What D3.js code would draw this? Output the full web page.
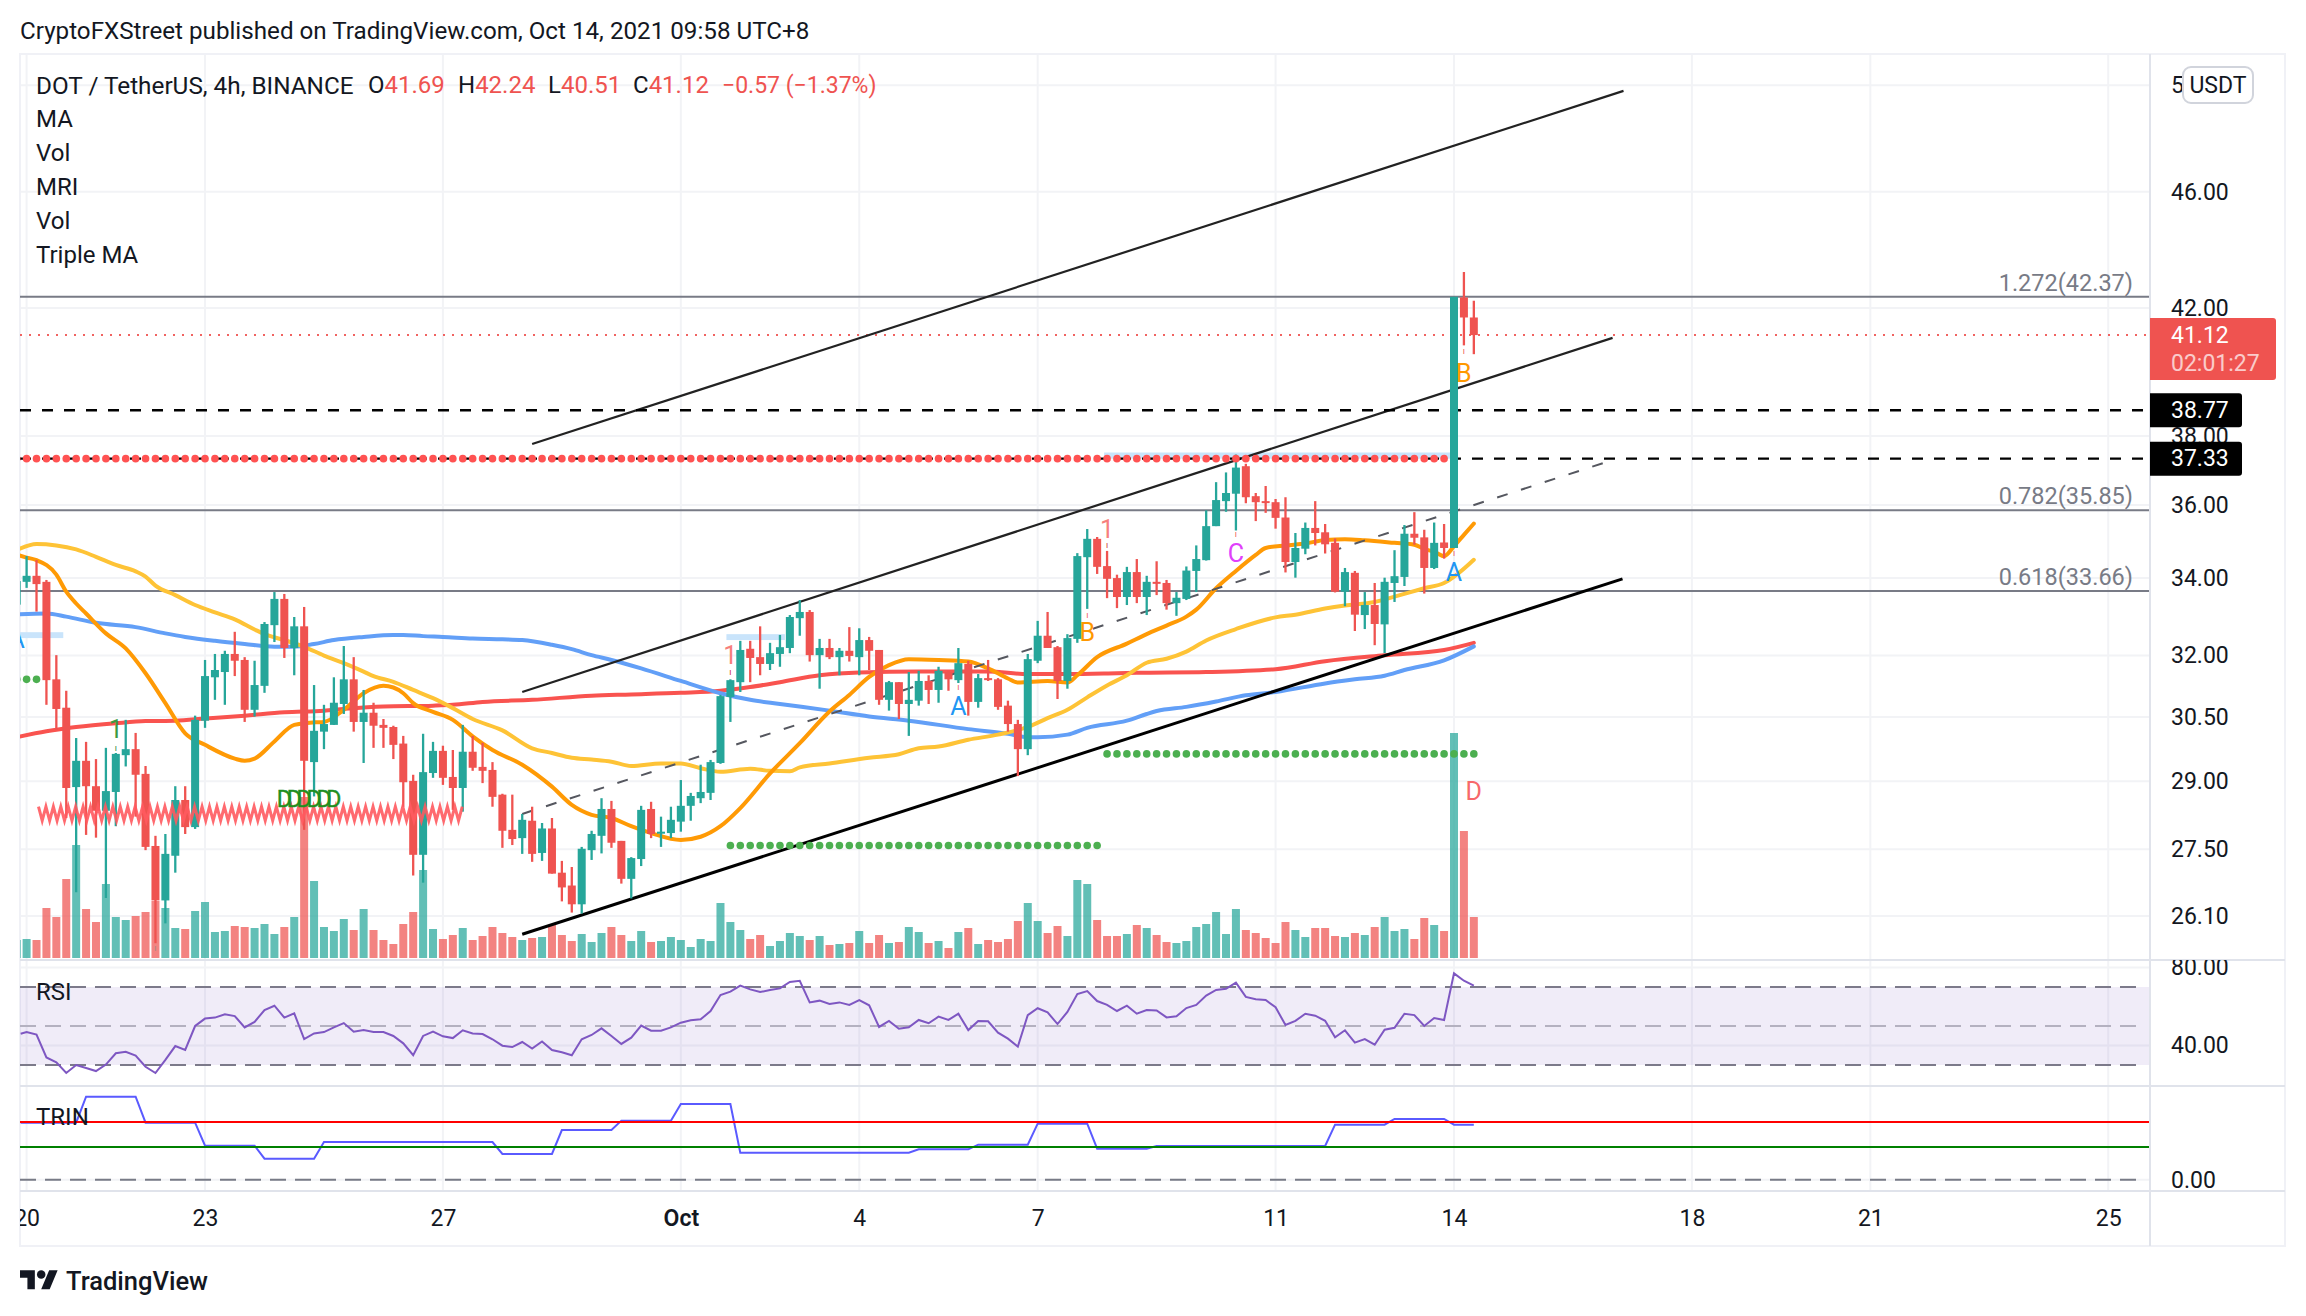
<!DOCTYPE html>
<html>
<head>
<meta charset="utf-8">
<style>
  html, body { margin: 0; background: #fff; }
  svg { display: block; }
  text { font-family: Roboto, "Liberation Sans", sans-serif; fill: #131722; }
</style>
</head>
<body>
<svg id="chart" width="2306" height="1316"></svg>
<script src="https://cdn.jsdelivr.net/npm/d3@7"></script>
<script>
// bars run from index -1 (cut off by the left edge) to 146, 4h each, 0 = Sep 20
const opens = [33.30,
  33.90,34.06,33.90,31.41,30.72,28.87,29.47,28.89,28.34,28.76,29.60,29.74,29.17,27.57,26.42,27.36,28.58,27.98,30.41,31.46,
  31.59,32.04,31.89,30.67,31.25,32.77,33.45,32.19,32.74,29.44,30.15,30.31,30.81,31.41,30.38,30.60,30.31,30.26,29.87,29.01,
  27.38,29.19,29.70,29.10,28.85,29.68,29.33,29.26,28.70,27.92,27.74,28.12,27.42,27.95,27.00,26.73,26.34,27.48,27.79,28.38,
  27.68,26.87,27.29,28.38,27.85,27.85,28.10,28.45,28.62,28.74,29.42,30.98,31.34,32.17,31.96,31.79,32.04,32.19,32.95,33.11,
  32.01,32.19,31.96,32.12,31.96,32.39,32.14,30.91,31.34,30.81,30.89,31.37,31.15,31.59,31.39,31.79,30.86,31.44,31.41,30.77,
  30.33,29.74,31.87,32.50,32.21,31.37,32.42,34.56,35.06,34.32,34.00,33.50,34.16,33.50,33.90,33.87,33.34,33.45,34.19,34.48,
  35.41,36.11,36.32,37.11,36.25,36.11,36.08,35.65,34.43,34.79,35.36,35.24,34.95,33.64,34.14,33.03,33.29,32.79,33.87,34.03,
  35.20,35.10,34.27,34.96,34.81,42.35,41.69];
const highs = [34.00,
  34.59,34.48,33.95,32.01,31.13,30.00,29.91,29.51,29.77,29.65,30.43,30.12,29.35,27.79,27.83,28.89,28.89,30.53,31.89,32.04,
  32.12,32.60,31.96,31.87,32.85,33.63,33.58,32.98,33.24,31.27,30.79,31.46,32.24,31.96,31.15,30.84,30.45,30.29,30.05,29.15,
  30.10,29.91,29.82,29.72,30.31,30.05,29.89,29.44,28.72,28.70,28.27,28.43,28.07,28.18,27.25,27.12,27.55,27.90,28.62,28.56,
  27.68,27.33,28.45,28.54,28.21,28.43,29.03,28.74,29.38,29.49,31.03,31.41,32.37,32.37,32.74,32.32,32.52,33.03,33.42,33.16,
  32.42,32.42,32.19,32.72,32.69,32.47,32.14,31.37,31.34,31.59,31.62,31.51,31.72,31.62,32.19,31.87,31.54,31.89,31.44,30.89,
  30.43,32.04,32.88,33.11,32.24,32.54,34.67,35.33,35.11,34.73,34.09,34.30,34.51,34.06,34.45,33.95,33.63,34.31,34.88,35.85,
  36.65,36.93,37.45,37.18,36.34,36.54,36.17,36.22,35.22,35.51,36.11,35.47,35.07,34.27,34.19,33.63,33.87,34.01,34.75,35.44,
  35.80,35.31,35.51,35.47,42.37,43.20,42.24];
const lows = [33.20,
  33.74,33.12,30.79,30.20,28.18,26.59,27.81,27.75,26.47,28.00,29.34,28.21,27.48,25.55,25.95,27.00,27.83,27.94,30.24,30.91,
  30.79,31.49,30.38,30.51,31.08,32.34,31.94,31.51,27.92,28.66,29.74,30.31,30.57,30.15,29.42,29.77,29.77,29.51,28.43,26.94,
  26.79,29.08,28.92,28.36,28.32,29.24,28.96,28.43,27.53,27.59,27.40,27.23,27.25,26.98,26.40,26.17,26.15,27.27,27.41,27.53,
  26.77,26.46,27.14,27.74,27.55,27.74,27.88,28.12,28.51,28.58,29.40,30.38,31.10,31.34,31.51,31.64,31.72,32.06,32.50,31.85,
  31.18,31.91,31.51,31.85,31.51,31.64,30.79,30.65,30.45,30.05,30.77,30.81,30.84,31.13,31.32,30.53,30.72,31.37,30.67,30.15,
  29.12,29.60,31.81,32.19,30.93,31.18,32.32,33.19,34.11,33.47,33.21,33.29,33.34,33.03,33.55,33.17,33.01,33.42,33.63,34.47,
  35.41,35.81,35.29,36.05,35.55,35.78,35.34,34.15,34.01,34.64,34.88,34.66,33.62,33.26,32.62,32.67,32.26,32.06,33.37,33.79,
  34.90,33.59,34.24,34.52,34.81,40.79,40.51];
const closes = [33.92,
  34.06,33.84,31.39,30.69,28.85,29.47,28.89,28.34,28.78,29.63,29.74,29.15,27.55,26.42,27.40,28.58,27.98,30.43,31.49,31.64,
  32.04,31.87,30.67,31.27,32.80,33.45,32.19,32.74,29.47,30.17,30.33,30.84,31.41,30.38,30.60,30.29,30.24,29.84,28.98,27.38,
  29.21,29.70,29.08,28.85,29.68,29.31,29.24,28.65,27.90,27.72,28.14,27.40,27.95,26.98,26.69,26.34,27.51,27.83,28.38,27.64,
  26.87,27.31,28.36,27.83,27.88,28.14,28.45,28.67,28.76,29.44,31.00,31.39,32.14,31.94,31.79,32.06,32.21,32.98,33.11,32.01,
  32.19,31.96,32.12,31.99,32.39,32.12,30.91,31.34,30.81,30.91,31.37,31.15,31.62,31.41,31.81,30.86,31.44,31.39,30.74,30.33,
  29.74,31.91,32.50,32.19,31.37,32.44,34.59,35.06,34.30,33.98,33.50,34.16,33.50,33.90,33.85,33.34,33.48,34.20,34.51,35.41,
  36.14,36.34,37.07,36.22,36.08,36.06,35.64,34.43,34.81,35.36,35.22,34.91,33.64,34.16,33.04,33.29,32.80,33.90,34.05,35.20,
  35.09,34.27,34.95,34.81,42.37,41.69,41.12];
const volumes = [18,
  19,18,50,41,79,113,49,36,74,41,38,42,46,57,50,30,29,47,56,26,
  27,32,31,30,34,24,31,41,161,77,31,27,39,28,49,28,18,14,34,46,
  88,29,19,23,30,18,22,31,25,21,18,20,21,33,23,17,24,16,25,31,
  23,17,27,16,17,21,18,11,19,17,55,36,28,19,23,12,17,25,22,18,
  22,13,14,15,27,15,23,15,16,31,26,15,17,10,26,30,14,18,16,19,
  37,55,37,25,32,22,78,74,38,22,22,24,33,30,23,16,15,17,31,34,
  46,24,49,28,25,20,15,36,28,21,30,30,22,21,25,23,31,41,27,29,
  19,40,33,27,225,127,41];

// moving averages, read at these bars only
const maFastBars = [-1,0,1,3,4,5,6,8,10,12,14,16,18,21,22,23,25,27,29,30,32,34,36,37,38,39,41,43,45,47,50,53,55,57,59,61,63,66,68,70,72,75,78,81,83,85,87,89,92,95,97,99,100,103,105,106,108,111,113,115,117,118,120,122,124,125,127,129,131,133,135,138,140,141,142,143,144,145,146];
const maFast = [34.63,34.55,34.48,34.09,33.64,33.33,33.07,32.56,32.18,31.56,30.83,30.11,29.84,29.52,29.47,29.52,29.92,30.31,30.37,30.38,30.67,31.07,31.25,31.21,31.07,30.83,30.62,30.43,30.04,29.72,29.38,28.88,28.47,28.25,28.18,28.00,27.85,27.70,27.77,28.00,28.40,29.18,29.88,30.63,31.03,31.47,31.76,31.91,31.89,31.85,31.68,31.43,31.33,31.37,31.33,31.51,31.96,32.30,32.54,32.76,32.99,33.17,33.73,34.19,34.62,34.81,34.88,34.93,35.03,35.05,35.02,34.95,34.90,34.78,34.71,34.59,34.86,35.17,35.48];
const maMidBars = [-1,1,3,5,7,9,11,12,13,15,17,19,21,23,24,26,28,30,32,34,35,37,39,41,43,45,48,51,53,55,57,59,61,64,66,68,70,73,75,77,78,81,85,88,90,92,95,98,101,103,105,107,109,111,113,115,117,119,122,126,128,131,133,136,138,141,143,146];
const maMid = [34.75,34.92,34.88,34.77,34.57,34.35,34.18,34.04,33.80,33.55,33.29,33.10,32.92,32.66,32.54,32.39,32.22,32.00,31.81,31.60,31.49,31.35,31.15,30.95,30.71,30.45,30.18,29.76,29.65,29.54,29.50,29.45,29.35,29.41,29.41,29.30,29.22,29.29,29.24,29.23,29.32,29.41,29.54,29.62,29.76,29.80,29.96,30.08,30.26,30.47,30.67,30.97,31.26,31.51,31.82,31.92,32.10,32.38,32.67,32.97,33.04,33.20,33.28,33.37,33.51,33.73,33.87,34.49];
const maSlowBars = [-1,2,4,7,11,14,16,19,22,25,27,29,31,34,37,38,40,42,45,48,50,53,55,57,59,62,66,70,73,76,81,85,89,95,99,101,102,105,107,111,113,114,117,120,123,126,131,134,137,139,143,146];
const maSlow = [33.05,33.07,32.99,32.83,32.72,32.56,32.47,32.37,32.29,32.22,32.22,32.29,32.39,32.47,32.52,32.52,32.49,32.47,32.43,32.41,32.39,32.27,32.16,32.01,31.89,31.68,31.37,31.07,30.91,30.81,30.65,30.51,30.41,30.21,30.10,30.02,30.02,30.08,30.24,30.41,30.57,30.64,30.74,30.87,31.02,31.10,31.31,31.41,31.50,31.64,31.88,32.23];
const maLongBars = [-1,2,5,9,12,15,18,22,26,30,32,36,41,43,46,51,57,61,66,70,73,76,80,84,90,97,101,105,110,112,119,126,131,137,143,146];
const maLong = [30.02,30.16,30.26,30.35,30.40,30.41,30.46,30.53,30.61,30.65,30.69,30.75,30.77,30.79,30.86,30.91,31.01,31.04,31.08,31.13,31.22,31.34,31.51,31.58,31.60,31.60,31.54,31.54,31.56,31.57,31.59,31.66,31.86,32.01,32.14,32.32];

// RSI, one value per bar from -1
const rsiValues = [46,
  46.9,45.6,33.9,31.4,25.9,30.0,28.5,26.9,30.2,36.0,36.8,34.8,29.1,25.9,32.6,39.7,37.7,50.0,53.8,54.3,
  56.0,55.1,49.3,52.1,58.2,60.4,54.3,56.5,43.3,46.2,46.9,49.3,51.5,47.1,47.9,46.9,46.9,44.9,41.1,35.0,
  44.9,47.1,44.7,43.8,47.8,46.2,45.9,43.2,39.9,39.2,41.8,38.4,42.1,37.7,36.5,35.0,43.2,45.4,48.8,44.9,
  40.8,44.0,50.2,47.6,47.6,49.3,51.7,52.9,53.4,57.7,65.9,67.6,70.7,68.8,67.4,68.5,69.3,72.6,73.2,62.1,
  63.0,61.3,62.1,60.8,63.3,60.6,49.5,52.6,48.6,49.3,53.1,51.4,54.8,53.1,56.3,47.9,52.6,52.4,46.6,43.5,
  39.4,55.6,59.1,57.0,51.0,57.2,66.4,67.9,62.8,60.8,57.7,60.4,56.3,58.2,58.0,54.4,55.0,59.2,60.8,65.6,
  68.5,69.1,72.2,64.9,63.7,63.3,59.6,50.5,52.6,56.3,55.3,52.7,44.2,47.8,41.5,43.3,40.4,48.1,49.1,56.3,
  55.6,50.0,54.1,53.1,77.0,73.2,70.7];
const rsiLevels = [70, 50, 30];
const rsiTicks = [80, 40];

// TRIN steps: value at each corner of the stepped line
const trinBars = [-1,5,6,11,12,17,18,23,24,29,30,47,48,53,54,59,60,65,66,71,72,89,90,95,96,101,102,107,108,113,114,131,132,137,138,143,144,146];
const trinValues = [1.384,1.384,2.015,2.015,1.384,1.384,0.826,0.826,0.510,0.510,0.915,0.915,0.624,0.624,1.206,1.206,1.433,1.433,1.837,1.837,0.656,0.656,0.737,0.737,0.850,0.850,1.360,1.360,0.753,0.753,0.818,0.818,1.336,1.336,1.473,1.473,1.336,1.336];
const trinUpper = 1.40;
const trinLower = 0.794;

const priceTicks = [50, 46, 42, 38, 36, 34, 32, 30.5, 29, 27.5, 26.1];
const timeTickBars = [0, 18, 42, 66, 84, 102, 126, 144, 168, 186, 210];
const timeLabels = ["20", "23", "27", "Oct", "4", "7", "11", "14", "18", "21", "25"];

const fibLevels = [1.272, 0.782, 0.618];
const fibPrices = [42.37, 35.85, 33.66];
const supportPrices = [38.77, 37.33];
const lastPrice = 41.12;

// trend lines as [bar, price] ends
const channelTop = [[51, 37.76], [161.1, 49.78]];
const channelUpper = [[50, 31.10], [160, 41.03]];
const channelMiddle = [[50, 28.27], [160, 37.29]];
const channelBottom = [[50, 25.73], [161, 33.98]];

// light blue boxes: first bar, last bar, upper price, lower price
const blueBoxes = [[-1.7, 3.7, 32.59, 32.44], [70.6, 76.5, 32.54, 32.39], [108.7, 143.6, 37.51, 37.33]];

// dotted rows of the triple MA signal: level, first bar, last bar
const redDotLevel = 37.33, redDotFrom = -1, redDotTo = 143;
const greenDotRows = [[31.41, -1, 1], [27.58, 71, 108], [29.63, 109, 146]];
const zigzagHigh = 28.43, zigzagLow = 28.12, zigzagFrom = 1.2, zigzagTo = 44;

// letters printed by the indicators: text, bar, price, colour
const chartLetters = [
  ["1", 9, 30.19, "#3c9a40"], ["1", 71, 32.01, "#f77f7c"], ["1", 109, 35.33, "#f77f7c"],
  ["A", 94, 30.74, "#2196f3"], ["A", 144, 34.16, "#2196f3"],
  ["B", 107, 32.57, "#ff9800"], ["B", 145, 39.90, "#ff9800"],
  ["C", 122, 34.67, "#e040fb"], ["D", 146, 28.78, "#f7686a"]
];
const tinyMarks = [[9, 29.75, "#2e7d32"], [13, 25.45, "#a1887f"], [71, 31.59, "#c62828"], [94, 31.20, "#ef5350"], [107, 33.03, "#ef5350"], [109, 34.88, "#c62828"], [122, 35.17, "#ef5350"], [144, 34.67, "#ef5350"], [145, 40.60, "#ef5350"]];
const dBars = [26, 27, 28, 29, 30, 31];
const dPrice = 28.43;

const legendLines = ["MA", "Vol", "MRI", "Vol", "Triple MA"];
const ohlcLabels = ["O", "H", "L", "C"];
const ohlcValues = ["41.69", "42.24", "40.51", "41.12"];

const W = 2306;
const paneLeft = 20, axisX = 2150, paneRight = 2285, paneTop = 54;
const mainBottom = 960, rsiBottom = 1086, trinBottom = 1191, timeBottom = 1246;
const red = "#ef5350", green = "#26a69a", gridColor = "#f2f3f6", lineColor = "#e0e3eb", gray = "#787b86";
const bars = d3.range(-1, 147);

const svg = d3.select("#chart");
const x = d3.scaleLinear().domain([0, 144]).range([26.6, 1454]);
const y = d3.scaleLog().domain([50, 26.1]).range([85.2, 916]);
const yVol = d3.scaleLinear().domain([0, 225]).range([958, 733]);
const yRsi = d3.scaleLinear().domain([70, 30]).range([987, 1065]);
const yTrin = d3.scaleLinear().domain([0, 1.4]).range([1179.7, 1122]);

svg.append("rect").attr("width", W).attr("height", 1316).attr("fill", "#fff");

const defs = svg.append("defs");
defs.append("clipPath").attr("id", "plot").append("rect")
  .attr("x", paneLeft).attr("y", paneTop).attr("width", axisX - paneLeft).attr("height", mainBottom - paneTop);
defs.append("clipPath").attr("id", "rsiAxis").append("rect")
  .attr("x", axisX).attr("y", mainBottom).attr("width", paneRight - axisX).attr("height", rsiBottom - mainBottom);
defs.append("clipPath").attr("id", "timeAxis").append("rect")
  .attr("x", paneLeft).attr("y", trinBottom).attr("width", axisX - paneLeft).attr("height", timeBottom - trinBottom);

function hLine(g, yPos, color, width, dash, x2) {
  return g.append("line").attr("x1", paneLeft).attr("x2", x2 || axisX).attr("y1", yPos).attr("y2", yPos)
    .attr("stroke", color).attr("stroke-width", width).attr("stroke-dasharray", dash || null);
}

// grid
const grid = svg.append("g");
priceTicks.forEach(p => hLine(grid, y(p), gridColor, 2));
rsiTicks.forEach(v => hLine(grid, yRsi(v), gridColor, 2));
hLine(grid, yTrin(0), gridColor, 2);
timeTickBars.forEach(b => {
  grid.append("line").attr("x1", x(b)).attr("x2", x(b)).attr("y1", paneTop).attr("y2", trinBottom)
    .attr("stroke", gridColor).attr("stroke-width", 2);
});

// frame
svg.append("rect").attr("x", paneLeft).attr("y", paneTop).attr("width", paneRight - paneLeft).attr("height", timeBottom - paneTop)
  .attr("fill", "none").attr("stroke", "#f0f1f6").attr("stroke-width", 2);

const plot = svg.append("g").attr("clip-path", "url(#plot)");

// light blue boxes behind the levels
plot.append("g").selectAll("rect").data(blueBoxes).join("rect")
  .attr("x", d => x(d[0])).attr("width", d => x(d[1]) - x(d[0]))
  .attr("y", d => y(d[2])).attr("height", d => y(d[3]) - y(d[2]))
  .attr("fill", "#c9e4fb");

// fib and last price levels
fibPrices.forEach(p => hLine(plot, y(p), gray, 2));
hLine(plot, y(lastPrice), red, 2, "2 7").attr("opacity", 0.9);

// volume
plot.append("g").selectAll("rect").data(bars).join("rect")
  .attr("x", i => x(i) - 4).attr("width", 8)
  .attr("y", i => yVol(volumes[i + 1])).attr("height", i => yVol(0) - yVol(volumes[i + 1]))
  .attr("fill", i => closes[i + 1] >= opens[i + 1] ? green : red).attr("opacity", 0.72);

// moving averages
function maLine(barList, values, color) {
  const line = d3.line().x(b => x(b)).y((b, i) => y(values[i])).curve(d3.curveMonotoneX);
  plot.append("path").attr("d", line(barList)).attr("fill", "none")
    .attr("stroke", color).attr("stroke-width", 4).attr("stroke-linecap", "round");
}
maLine(maLongBars, maLong, "#f9534f");
maLine(maSlowBars, maSlow, "#629ff7");
maLine(maMidBars, maMid, "#fec336");
maLine(maFastBars, maFast, "#ff9a05");

// channel
const trend = d3.line().x(d => x(d[0])).y(d => y(d[1]));
[[channelTop, 2.2, null, "#222"], [channelUpper, 2.2, null, "#222"], [channelMiddle, 2, "11 14", "#55575f"], [channelBottom, 3, null, "#000"]]
  .forEach(t => {
    plot.append("path").attr("d", trend(t[0])).attr("fill", "none")
      .attr("stroke", t[3]).attr("stroke-width", t[1]).attr("stroke-dasharray", t[2]);
  });
supportPrices.forEach(p => hLine(plot, y(p), "#000", 2.4, "11 11"));

// candles
const candles = plot.append("g");
candles.selectAll("line").data(bars).join("line")
  .attr("x1", i => x(i)).attr("x2", i => x(i))
  .attr("y1", i => y(highs[i + 1])).attr("y2", i => y(lows[i + 1]))
  .attr("stroke", i => closes[i + 1] >= opens[i + 1] ? green : red).attr("stroke-width", 2.3);
candles.selectAll("rect").data(bars).join("rect")
  .attr("x", i => x(i) - 4).attr("width", 8)
  .attr("y", i => y(Math.max(opens[i + 1], closes[i + 1])))
  .attr("height", i => Math.max(2, Math.abs(y(opens[i + 1]) - y(closes[i + 1]))))
  .attr("fill", i => closes[i + 1] >= opens[i + 1] ? green : red);

// zigzag row
const zigzag = d3.line().x(d => x(d)).y((d, i) => y(i % 2 ? zigzagLow : zigzagHigh));
plot.append("path").attr("d", zigzag(d3.range(zigzagFrom, zigzagTo + 0.01, 0.375))).attr("fill", "none")
  .attr("stroke", "#ff5a5f").attr("stroke-width", 3).attr("opacity", 0.9);

// dot rows
plot.append("g").selectAll("circle").data(d3.range(redDotFrom, redDotTo + 1)).join("circle")
  .attr("cx", b => x(b)).attr("cy", y(redDotLevel)).attr("r", 3.8).attr("fill", "#ff5252");
greenDotRows.forEach(r => {
  plot.append("g").selectAll("circle").data(d3.range(r[1], r[2] + 1)).join("circle")
    .attr("cx", b => x(b)).attr("cy", y(r[0])).attr("r", 3.8).attr("fill", "#4caf50");
});

// indicator letters
plot.selectAll(null).data(chartLetters).join("text")
  .attr("x", d => x(d[1])).attr("y", d => y(d[2])).attr("text-anchor", "middle").attr("dominant-baseline", "central")
  .attr("font-size", 25).style("fill", d => d[3]).text(d => d[0]);
plot.selectAll(null).data(tinyMarks).join("text")
  .attr("x", d => x(d[0])).attr("y", d => y(d[1])).attr("text-anchor", "middle").attr("dominant-baseline", "central")
  .attr("font-size", 8).style("fill", d => d[2]).text("I");
plot.selectAll(null).data(dBars).join("text")
  .attr("x", b => x(b)).attr("y", y(dPrice)).attr("text-anchor", "middle")
  .attr("font-size", 23).style("fill", "#1f8f1f").style("stroke", "#1f8f1f").style("stroke-width", 0.4).text("D");
plot.append("text").attr("x", x(-1)).attr("y", y(32.2)).attr("text-anchor", "middle")
  .attr("font-size", 25).style("fill", "#2196f3").text("A");

// RSI pane
svg.append("rect").attr("x", paneLeft).attr("width", axisX - paneLeft).attr("y", yRsi(70)).attr("height", yRsi(30) - yRsi(70))
  .attr("fill", "#7e57c2").attr("opacity", 0.115);
rsiLevels.forEach((v, i) => hLine(svg, yRsi(v), i === 1 ? "#b4b1c0" : "#7c7a8a", 2, "16 9", axisX - 8));
svg.append("path").attr("fill", "none").attr("stroke", "#7e57c2").attr("stroke-width", 2)
  .attr("d", d3.line().x(b => x(Math.max(b, -0.6))).y(b => yRsi(rsiValues[b + 1]))(bars));

// TRIN pane
hLine(svg, yTrin(0), gray, 2, "16 9", axisX - 8);
svg.append("path").attr("fill", "none").attr("stroke", "#5a5aff").attr("stroke-width", 2)
  .attr("d", d3.line().x(b => x(Math.max(b, -0.6))).y((b, i) => yTrin(trinValues[i]))(trinBars));
hLine(svg, yTrin(trinUpper), "#ff0000", 2);
hLine(svg, yTrin(trinLower), "#008000", 2);

// pane separators and axis line
[mainBottom, rsiBottom, trinBottom].forEach(yy => {
  svg.append("line").attr("x1", paneLeft).attr("x2", paneRight).attr("y1", yy).attr("y2", yy)
    .attr("stroke", lineColor).attr("stroke-width", 2);
});
svg.append("line").attr("x1", axisX).attr("x2", axisX).attr("y1", paneTop).attr("y2", timeBottom)
  .attr("stroke", lineColor).attr("stroke-width", 2);

// price axis
const axisFont = 23;
function styleAxis(g) {
  g.select(".domain").remove();
  g.selectAll(".tick line").remove();
  g.selectAll("text").attr("font-size", axisFont).style("font-family", "Roboto").style("fill", "#131722");
}
svg.append("g").attr("transform", `translate(${axisX + 21},0)`)
  .call(d3.axisRight(y).tickValues(priceTicks).tickFormat(d3.format(".2f")).tickSize(0).tickPadding(0))
  .call(styleAxis);
svg.append("g").attr("clip-path", "url(#rsiAxis)").append("g").attr("transform", `translate(${axisX + 21},0)`)
  .call(d3.axisRight(yRsi).tickValues(rsiTicks).tickFormat(d3.format(".2f")).tickSize(0).tickPadding(0))
  .call(styleAxis);
svg.append("g").attr("transform", `translate(${axisX + 21},0)`)
  .call(d3.axisRight(yTrin).tickValues([0]).tickFormat(d3.format(".2f")).tickSize(0).tickPadding(0))
  .call(styleAxis);

// time axis
const timeAxis = svg.append("g").attr("clip-path", "url(#timeAxis)").append("g").attr("transform", "translate(0,1210)")
  .call(d3.axisBottom(x).tickValues(timeTickBars).tickFormat((d, i) => timeLabels[i]).tickSize(0).tickPadding(0))
  .call(styleAxis);
timeAxis.selectAll("text").filter(d => d === 66).attr("font-weight", 600);

// price tags
function tag(yTop, h, w, fill) {
  svg.append("path").attr("fill", fill)
    .attr("d", `M${axisX},${yTop}h${w - 3}a3,3 0 0 1 3,3v${h - 6}a3,3 0 0 1 -3,3h${-(w - 3)}z`);
}
function tagText(yPos, label, opacity) {
  svg.append("text").attr("x", axisX + 21).attr("y", yPos).attr("dominant-baseline", "central")
    .attr("font-size", axisFont).attr("opacity", opacity).style("fill", "#fff").text(label);
}
supportPrices.forEach(p => {
  tag(y(p) - 17, 34, 92, "#000");
  tagText(y(p), p.toFixed(2), 1);
});
tag(318, 62, 126, red);
tagText(335, lastPrice.toFixed(2), 1);
tagText(363, "02:01:27", 0.7);

// currency box
svg.append("rect").attr("x", 2183).attr("y", 67).attr("width", 70).attr("height", 36).attr("rx", 8)
  .attr("fill", "#fff").attr("stroke", "#d1d4dc").attr("stroke-width", 2);
svg.append("text").attr("x", 2218).attr("y", 85).attr("text-anchor", "middle").attr("dominant-baseline", "central")
  .attr("font-size", axisFont).text("USDT");

// fib labels
fibPrices.forEach((p, i) => {
  svg.append("text").attr("x", 2133).attr("y", y(p) - 14).attr("text-anchor", "end")
    .attr("dominant-baseline", "central").attr("font-size", 23.5).style("fill", gray)
    .text(`${fibLevels[i]}(${p.toFixed(2)})`);
});

// header and legend
svg.append("text").attr("x", 20).attr("y", 31).attr("dominant-baseline", "central").attr("font-size", 24.2)
  .text("CryptoFXStreet published on TradingView.com, Oct 14, 2021 09:58 UTC+8");
svg.append("text").attr("x", 36).attr("y", 85).attr("dominant-baseline", "central").attr("font-size", 24.3)
  .text("DOT / TetherUS, 4h, BINANCE");
const ohlcX = [368, 458, 548, 633];
ohlcLabels.forEach((l, i) => {
  const t = svg.append("text").attr("x", ohlcX[i]).attr("y", 85).attr("dominant-baseline", "central").attr("font-size", 24);
  t.append("tspan").text(l);
  t.append("tspan").style("fill", red).text(ohlcValues[i]);
});
svg.append("text").attr("x", 722).attr("y", 85).attr("dominant-baseline", "central").attr("font-size", 23)
  .style("fill", red).text("\u22120.57 (\u22121.37%)");
legendLines.forEach((l, i) => {
  svg.append("text").attr("x", 36).attr("y", 119 + i * 34).attr("dominant-baseline", "central").attr("font-size", 24).text(l);
});
svg.append("text").attr("x", 36).attr("y", 992).attr("dominant-baseline", "central").attr("font-size", 24).text("RSI");
svg.append("text").attr("x", 36).attr("y", 1117).attr("dominant-baseline", "central").attr("font-size", 24).text("TRIN");

// logo
const logo = svg.append("g").attr("transform", "translate(20,1266) scale(1.06)").attr("fill", "#131722");
logo.append("path").attr("d", "M14 22H7V11H0V4h14v18zM28 22h-8l7.5-18h8L28 22z");
logo.append("circle").attr("cx", 20).attr("cy", 8).attr("r", 4);
svg.append("text").attr("x", 66).attr("y", 1281).attr("dominant-baseline", "central").attr("font-size", 25.5)
  .attr("font-weight", 500).text("TradingView");
</script>
</body>
</html>
